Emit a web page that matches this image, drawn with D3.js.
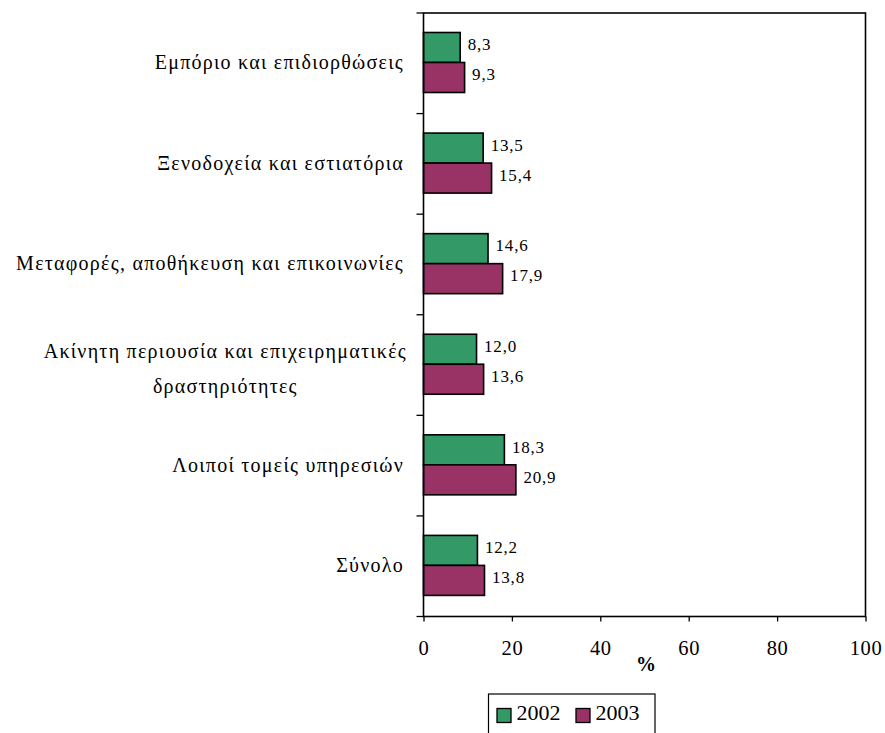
<!DOCTYPE html>
<html><head><meta charset="utf-8">
<script src="https://cdn.jsdelivr.net/npm/d3@7"></script>
<style>body{margin:0;background:#fff}svg{display:block}</style>
</head><body><svg id="c" width="885" height="733"></svg>
<script>
const categories = [["Εμπόριο και επιδιορθώσεις"],["Ξενοδοχεία και εστιατόρια "],["Μεταφορές, αποθήκευση και επικοινωνίες"],["Ακίνητη περιουσία και επιχειρηματικές","δραστηριότητες"],["Λοιποί τομείς υπηρεσιών"],["Σύνολο"]];
const series = ["2002","2003"];
const values2002 = [8.3,13.5,14.6,12.0,18.3,12.2];
const values2003 = [9.3,15.4,17.9,13.6,20.9,13.8];
const xTicks = [0,20,40,60,80,100];
const colors = ["#339966","#993366"];

const FF = '"Liberation Serif"';
const svg = d3.select("#c");
const L=423.5,R=865.5,T=13,B=616.5;
const x = d3.scaleLinear().domain([0,100]).range([L,R]);
const y = d3.scaleBand().domain(d3.range(categories.length)).range([T,B]);
const bh = 30;
const fmt = v => v.toFixed(1).replace(".",",");
function txt(sel){ return sel.append("text").style("font-family",FF).attr("fill","#000"); }

const data = [values2002, values2003];
categories.forEach((c,i)=>{
  const y0 = y(i) + y.bandwidth()/2 - bh - 0.8;
  data.forEach((vals,s)=>{
    const yy = y0 + s*bh;
    svg.append("rect").attr("x",x(0)).attr("y",yy).attr("width",x(vals[i])-x(0)).attr("height",bh)
      .attr("fill",colors[s]).attr("stroke","#000").attr("stroke-width",1.6);
    txt(svg).attr("x",x(vals[i])+7.5).attr("y",yy+17.8)
      .attr("font-size",17).attr("letter-spacing",0.8).text(fmt(vals[i]));
  });
});

svg.append("rect").attr("x",L).attr("y",T).attr("width",R-L).attr("height",B-T).attr("fill","none").attr("stroke","#000").attr("stroke-width",1.6);

d3.range(categories.length+1).forEach(i=>{
  const yy = T + i*y.bandwidth();
  svg.append("line").attr("x1",L-7).attr("x2",L).attr("y1",yy).attr("y2",yy).attr("stroke","#000").attr("stroke-width",1.3);
});

const xa = svg.append("g").attr("transform",`translate(0,${B})`)
  .call(d3.axisBottom(x).tickValues(xTicks).tickSize(5).tickPadding(0).tickFormat(d=>d));
xa.attr("font-family",null).attr("font-size",null);
xa.select(".domain").remove();
xa.selectAll("line").attr("stroke","#000").attr("stroke-width",1.3);
xa.selectAll("text").style("font-family",FF).attr("font-size",20.5).attr("letter-spacing",0.6).attr("y",38.5).attr("dy",null).attr("fill","#000");

txt(svg).attr("x",646).attr("y",671).attr("text-anchor","middle").attr("font-size",20).attr("font-weight","bold").text("%");

const catFont = 20, catSpacing = 1.25;
categories.forEach((lines,i)=>{
  const cy = y(i)+y.bandwidth()/2;
  if(lines.length===1){
    txt(svg).attr("x",404).attr("y",cy+6).attr("text-anchor","end").attr("font-size",catFont).attr("letter-spacing",catSpacing).text(lines[0]);
  } else {
    const t0 = txt(svg).attr("y",cy-7).attr("text-anchor","middle").attr("font-size",catFont).attr("letter-spacing",catSpacing).text(lines[0]);
    const w = t0.node().getComputedTextLength();
    const cx = 407 - w/2;
    t0.attr("x",cx);
    txt(svg).attr("x",cx).attr("y",cy+28).attr("text-anchor","middle").attr("font-size",catFont).attr("letter-spacing",catSpacing).text(lines[1]);
  }
});

svg.append("rect").attr("x",488.5).attr("y",694).attr("width",166.5).attr("height",50).attr("fill","#fff").attr("stroke","#000").attr("stroke-width",1.2);
const lx=[497,576];
series.forEach((s,i)=>{
  svg.append("rect").attr("x",lx[i]).attr("y",708.5).attr("width",14).attr("height",14).attr("fill",colors[i]).attr("stroke","#000").attr("stroke-width",1.3);
  txt(svg).attr("x",lx[i]+19.5).attr("y",720).attr("font-size",22).text(s);
});
</script></body></html>
